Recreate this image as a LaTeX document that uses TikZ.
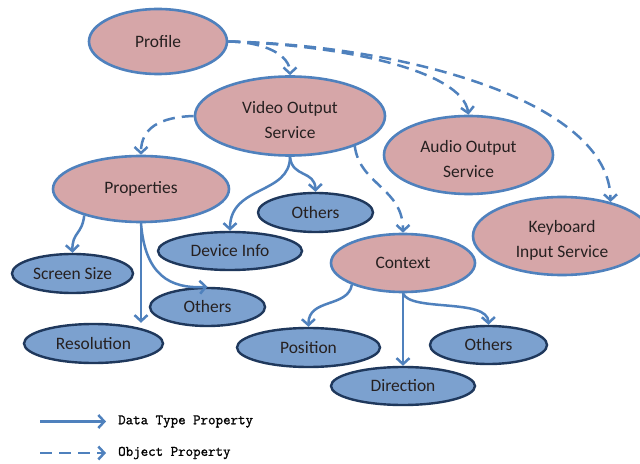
\documentclass[tikz,border=0pt]{standalone}
\usepackage{fontspec}
\setmainfont{Carlito}
\newfontfamily\legfont{Latin Modern Mono}[AutoFakeBold=1.2]
\usetikzlibrary{shapes.geometric,arrows.meta}
\definecolor{pinkfill}{RGB}{214,166,168}
\definecolor{bluefill}{RGB}{124,161,207}
\definecolor{edgeblue}{RGB}{79,129,189}
\definecolor{navy}{RGB}{31,56,92}
\definecolor{txt}{RGB}{38,32,32}
\newcommand{\tallstrut}{\rule{0pt}{21bp}}
\tikzset{
  classnode/.style={ellipse, draw=edgeblue, line width=2.6bp, fill=pinkfill, inner sep=0pt,
    text=txt, align=center, font=\fontsize{17.5}{25}\selectfont},
  leafnode/.style={ellipse, draw=navy, line width=2.4bp, fill=bluefill, inner sep=0pt,
    text=txt, align=center, font=\fontsize{17.5}{20}\selectfont},
  tip/.style={-{Straight Barb[length=6bp,width=13bp]}},
  dtprop/.style={tip, draw=edgeblue, line width=2.5bp},
  objprop/.style={tip, draw=edgeblue, line width=2.5bp, dash pattern=on 12bp off 7bp},
  legtext/.style={anchor=west, inner sep=0pt, text=black, font=\legfont\bfseries\fontsize{14.6}{16}\selectfont}
}
\begin{document}
\begin{tikzpicture}[x=1bp,y=-1bp]
\clip (0,0) rectangle (640,464);
\fill[white] (0,0) rectangle (640,464);
% class nodes
\node[classnode, minimum width=138bp, minimum height=65bp] (prof) at (158,41.5) {Profile};
\node[classnode, minimum width=190bp, minimum height=79bp] (vid) at (290,116) {\tallstrut Video Output\\Service};
\node[classnode, minimum width=169bp, minimum height=78bp] (aud) at (468.5,155) {\tallstrut Audio Output\\Service};
\node[classnode, minimum width=178bp, minimum height=78bp] (kbd) at (562,236) {\tallstrut Keyboard\\Input Service};
\node[classnode, minimum width=176bp, minimum height=66bp] (props) at (141,189) {Properties};
\node[classnode, minimum width=144bp, minimum height=58bp] (ctx) at (403,263) {Context};
% leaf nodes
\node[leafnode, minimum width=115bp, minimum height=39bp] (oth1) at (315.5,212.5) {Others};
\node[leafnode, minimum width=144bp, minimum height=38bp] (dev) at (230,251) {Device Info};
\node[leafnode, minimum width=121bp, minimum height=39bp] (scr) at (72.5,273.5) {Screen Size};
\node[leafnode, minimum width=115bp, minimum height=38bp] (oth2) at (207.5,307) {Others};
\node[leafnode, minimum width=139bp, minimum height=39bp] (res) at (93.5,343.5) {Resolution};
\node[leafnode, minimum width=143bp, minimum height=39bp] (pos) at (308.5,347.5) {Position};
\node[leafnode, minimum width=144bp, minimum height=38bp] (dir) at (403,386) {Direction};
\node[leafnode, minimum width=117bp, minimum height=38bp] (oth3) at (488.5,345) {Others};
% object properties (dashed)
\draw[objprop] (prof.east) .. controls (265,42) and (290,55) .. (vid.north);
\draw[objprop] (prof.east) .. controls (340,45) and (462,70) .. (aud.north);
\draw[objprop] (prof.east) .. controls (400,45) and (610,100) .. (kbd.35);
\draw[objprop] (vid.west) .. controls (160,117) and (141,128) .. (props.north);
\draw[objprop] (vid.-25) .. controls (360,185) and (403,188) .. (ctx.north);
% data type properties (solid)
\draw[dtprop] (vid.south) .. controls (290,195) and (230,185) .. (dev.north);
\draw[dtprop] (vid.south) .. controls (292,178) and (315,170) .. (oth1.north);
\draw[dtprop] (props.205) .. controls (82,235) and (72,232) .. (scr.north);
\draw[dtprop] (props.south) -- (props.south |- res.north);
\draw[dtprop] (props.south) .. controls (145,275) and (170,289) .. (oth2.north);
\draw[dtprop] (ctx.203) .. controls (348,308) and (308,298) .. (pos.north);
\draw[dtprop] (ctx.south) -- (dir.north);
\draw[dtprop] (ctx.south) .. controls (410,312) and (488,298) .. (oth3.north);
% legend
\coordinate (la1) at (40,421.5);
\coordinate (lb1) at (40,453);
\node[legtext] (lt1) at (118,421.5) {Data Type Property};
\node[legtext] (lt2) at (118,453) {Object Property};
\draw[dtprop] (la1) -- ([xshift=-12bp]lt1.west);
\draw[objprop] (lb1) -- ([xshift=-12bp]lt2.west);
\end{tikzpicture}
\end{document}
